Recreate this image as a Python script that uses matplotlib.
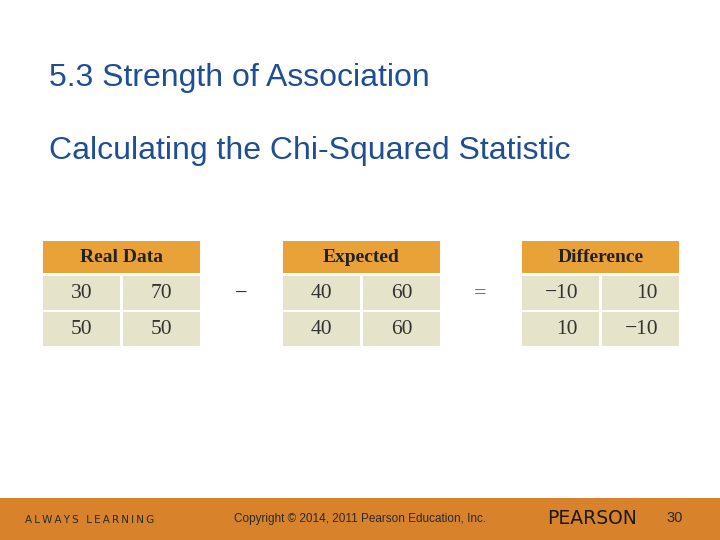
import matplotlib
matplotlib.use("Agg")
import matplotlib.pyplot as plt
from matplotlib.patches import Rectangle

title = "5.3 Strength of Association"
subtitle = "Calculating the Chi-Squared Statistic"
table_titles = ["Real Data", "Expected", "Difference"]
real = [["30", "70"], ["50", "50"]]
expected = [["40", "60"], ["40", "60"]]
difference = [["\u221210", "10"], ["10", "\u221210"]]
operators = ["\u2212", "="]
footer_left = "ALWAYS LEARNING"
footer_mid = "Copyright \u00a9 2014, 2011 Pearson Education, Inc."
footer_brand = "PEARSON"
page = "30"

fig = plt.figure(figsize=(7.2, 5.4), dpi=100)
ax = fig.add_axes([0, 0, 1, 1])
ax.set_xlim(0, 720); ax.set_ylim(540, 0); ax.axis("off")

blue = "#1F4E94"
ax.text(49, 78, title, fontsize=23, color=blue, family="Liberation Sans", va="center",
        fontstretch="normal")
ax.text(49, 151, subtitle, fontsize=23, color=blue, family="Liberation Sans", va="center")

hdr = "#E8A237"; cell = "#E6E3CB"
lefts = [43, 283, 522]
tables = [real, expected, difference]
for x0, t, data in zip(lefts, table_titles, tables):
    ax.add_patch(Rectangle((x0, 241), 157, 32, color=hdr, lw=0))
    ax.text(x0 + 78.5, 258, t, fontsize=14, fontweight="bold", family="Liberation Serif",
            ha="center", va="center", color="#222222")
    for r, row in enumerate(data):
        for c, v in enumerate(row):
            cx = x0 + c * 80
            cy = 276 + r * 36
            ax.add_patch(Rectangle((cx, cy), 77, 34, color=cell, lw=0))
            ax.text(cx + 38.5 if x0 != 522 else cx + 56, cy + 18, v, fontsize=15.5,
                    family="Liberation Serif", ha="center" if x0 != 522 else "right",
                    va="center", color="#333333")
ax.text(241, 294, operators[0], fontsize=16, ha="center", va="center", color="#333333",
        family="Liberation Serif")
ax.text(480, 294, operators[1], fontsize=16, ha="center", va="center", color="#555555",
        family="Liberation Serif")

ax.add_patch(Rectangle((0, 498), 720, 42, color="#D8832B", lw=0))
ax.text(25, 520, "\u2009".join(footer_left), fontsize=7.5, color="#2a2a2a", va="center",
        family="DejaVu Sans")
ax.text(360, 519, footer_mid, fontsize=8.5, color="#2a2a2a", va="center", ha="center",
        family="Liberation Sans")
ax.text(547, 519, footer_brand, fontsize=13.5, color="#1a1a1a", va="center",
        family="DejaVu Sans Condensed")
ax.text(675, 518, page, fontsize=10.5, color="#2a2a2a", va="center", ha="center",
        family="Liberation Sans")

fig.savefig("out.png", dpi=100)
